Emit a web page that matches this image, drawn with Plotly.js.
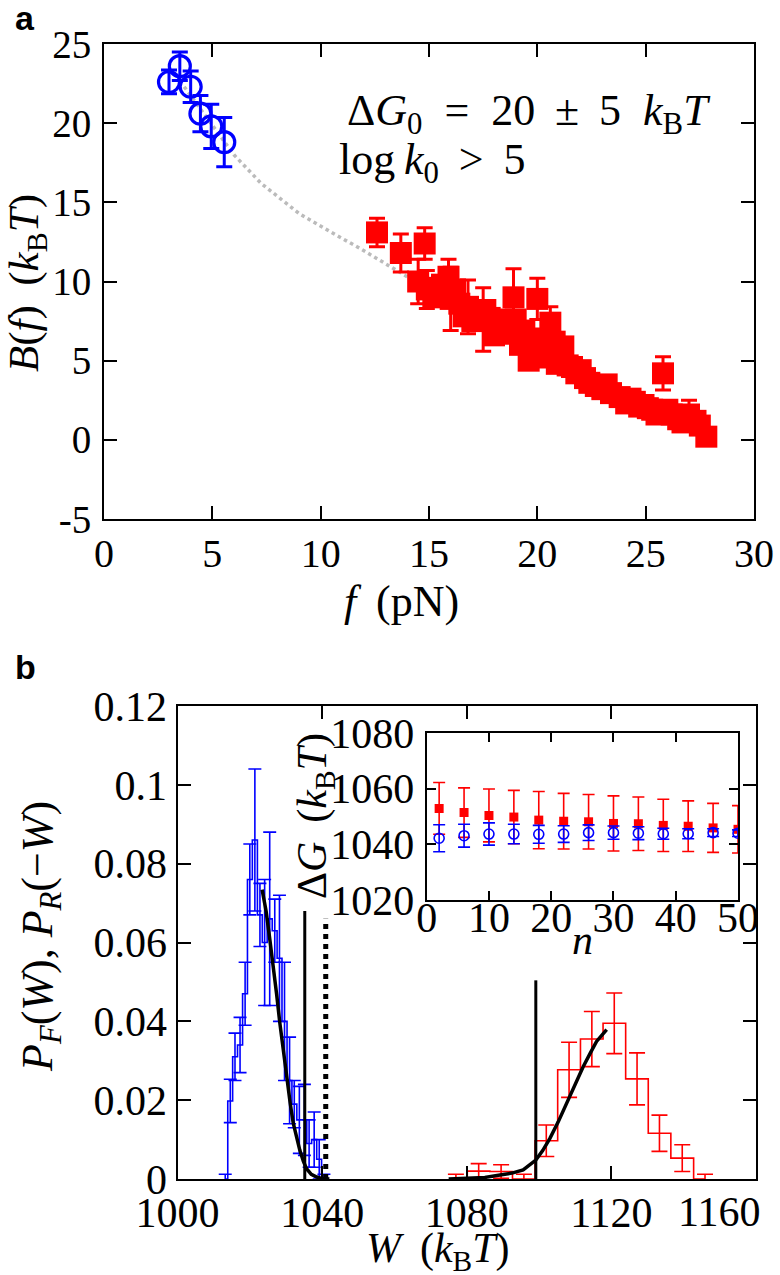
<!DOCTYPE html>
<html><head><meta charset="utf-8">
<script src="https://cdn.plot.ly/plotly-3.0.1.min.js"></script>
<style>body{margin:0;background:#fff;} #chart{width:780px;height:1275px;}</style>
</head><body><div id="chart"></div>
<script>
// ---------- Panel a data ----------
const fBlue = [3.0, 3.5, 4.0, 4.45, 4.95, 5.55];
const bBlue = [22.6, 23.6, 22.3, 20.6, 19.8, 18.8];
const bBlueErr = [0.75, 0.9, 1.0, 1.15, 1.4, 1.55];

const fRed = [12.6, 13.7, 14.8, 14.5, 14.9, 15.2, 15.3, 15.6, 15.9, 16.0, 16.2, 16.4, 16.6, 16.8, 17.0, 17.2, 17.5, 17.6, 17.8, 18.0, 18.2, 18.4, 18.5, 18.9, 18.9, 19.0, 19.2, 19.4, 19.6, 19.8, 20.0, 19.9, 20.3, 20.4, 20.6, 20.8, 20.9, 21.0, 21.2, 21.4, 21.6, 21.8, 22.0, 22.2, 22.4, 22.7, 23.0, 23.2, 23.4, 23.8, 24.1, 24.3, 24.5, 24.7, 24.9, 25.1, 25.3, 25.5, 25.7, 25.8, 26.0, 26.2, 26.5, 26.7, 27.0, 27.3, 27.5, 27.8];
const bRed = [13.1, 11.8, 12.4, 10.0, 9.5, 9.0, 9.6, 9.8, 10.3, 8.9, 9.5, 8.6, 7.8, 8.4, 7.5, 8.1, 7.6, 8.2, 7.7, 6.6, 7.0, 7.6, 6.7, 9.0, 6.8, 7.6, 6.0, 6.9, 5.0, 6.0, 8.9, 6.4, 5.7, 5.2, 7.4, 6.2, 4.8, 5.3, 5.9, 4.7, 4.6, 4.2, 4.4, 3.9, 3.6, 3.4, 3.2, 3.5, 2.95, 2.7, 2.3, 2.6, 2.4, 2.1, 2.2, 2.0, 1.9, 1.6, 1.7, 4.2, 1.9, 1.6, 1.3, 1.1, 1.6, 1.2, 0.9, 0.2];
const bRedErr = [0.9, 1.2, 1.0, 1.4, 1.2, 0.5, 0.5, 0.5, 1.1, 2.0, 0.5, 0.5, 0.5, 1.7, 0.5, 0.5, 2.0, 0.5, 0.5, 0.5, 0.5, 0.5, 0.5, 1.8, 0.5, 0.5, 0.5, 0.5, 0.5, 0.5, 1.3, 0.5, 0.5, 0.5, 1.0, 0.5, 0.5, 0.5, 0.5, 0.5, 0.5, 0.5, 0.5, 0.5, 0.5, 0.5, 0.5, 0.5, 0.5, 0.5, 0.5, 0.5, 0.5, 0.5, 0.5, 0.5, 0.5, 0.5, 0.5, 1.05, 0.5, 0.5, 0.5, 0.5, 0.9, 0.5, 0.5, 0.4];

const fFit = [3.7, 5.0, 6.0, 7.25, 9.0, 10.5, 11.8, 14.0, 16.0, 18.0, 20.0, 22.0, 24.0, 26.0, 27.8];
const bFit = [22.3, 19.9, 18.0, 16.2, 14.3, 13.1, 12.1, 10.3, 8.7, 7.2, 5.7, 4.3, 3.0, 1.9, 1.05];

const aXTicks = [0, 5, 10, 15, 20, 25, 30];
const aYTicks = [-5, 0, 5, 10, 15, 20, 25];
const aYTickText = ["-5", "0", "5", "10", "15", "20", "25"];

// ---------- Panel b data ----------
const wBlue = [1013.2, 1014.6, 1015.9, 1017.3, 1018.7, 1020.0, 1021.4, 1022.8, 1024.1, 1025.5, 1026.9, 1028.2, 1029.6, 1031.0, 1032.3, 1033.7, 1035.1, 1036.4, 1037.8, 1039.2, 1040.5];
const pBlue = [0, 0.0198, 0.031, 0.034, 0.047, 0.076, 0.086, 0.067, 0.060, 0.066, 0.063, 0.056, 0.040, 0.025, 0.019, 0.015, 0.015, 0.009, 0.010, 0.005, 0];
const pBlueErr = [0.0012, 0.0055, 0.006, 0.007, 0.008, 0.009, 0.018, 0.008, 0.016, 0.022, 0.008, 0.016, 0.015, 0.011, 0.006, 0.0085, 0.009, 0.006, 0.007, 0.005, 0.0012];

const wRed = [1077.0, 1083.3, 1089.5, 1095.8, 1102.0, 1108.3, 1114.6, 1120.8, 1127.1, 1133.3, 1139.6, 1145.9];
const pRed = [0, 0.002, 0.0019, 0, 0.0097, 0.0277, 0.0355, 0.0395, 0.0254, 0.0116, 0.0053, 0];
const pRedErr = [0.0012, 0.0019, 0.0017, 0.0012, 0.004, 0.007, 0.007, 0.0077, 0.0066, 0.0046, 0.0034, 0.0012];

const wFitF = [1023.4, 1024.5, 1025.5, 1026.5, 1027.4, 1028.3, 1029.3, 1030.3, 1031.2, 1032.0, 1033.0, 1033.8, 1034.8, 1035.7, 1037.0, 1038.5, 1040.0, 1042.0];
const pFitF = [0.0734, 0.068, 0.061, 0.054, 0.047, 0.0396, 0.032, 0.0252, 0.019, 0.0142, 0.010, 0.0074, 0.0045, 0.0026, 0.0012, 0.0005, 0.0001, 0];

const wFitR = [1075.0, 1085.0, 1089.2, 1092.5, 1095.6, 1099.1, 1101.0, 1103.0, 1105.3, 1107.6, 1110.0, 1112.2, 1114.2, 1115.9, 1118.7];
const pFitR = [0, 0.0004, 0.001, 0.0015, 0.0023, 0.0048, 0.0072, 0.0103, 0.0145, 0.0192, 0.024, 0.0285, 0.032, 0.0349, 0.0379];

const vlineW = [1035.2, 1041.0, 1099.1];
const vlineTop = [0.068, 0.066, 0.0504];
const vlineDash = ["solid", "dot", "solid"];

const bXTicks = [1000, 1040, 1080, 1120, 1160];
const bXTickText = ["1000", "1040", "1080", "1120", ""];
const bLastTickLabel = "1160";
const bYTicks = [0, 0.02, 0.04, 0.06, 0.08, 0.1, 0.12];
const bYTickText = ["0", "0.02", "0.04", "0.06", "0.08", "0.1", "0.12"];

// ---------- Inset data ----------
const nVals = [2, 6, 10, 14, 18, 22, 26, 30, 34, 38, 42, 46, 50];
const dgRed = [1052.9, 1051.4, 1050.4, 1049.8, 1048.7, 1048.3, 1048.1, 1047.5, 1047.4, 1046.8, 1046.5, 1045.9, 1045.4];
const dgRedErr = [9.3, 8.9, 9.5, 9.6, 10.3, 10.0, 9.8, 9.9, 9.6, 9.4, 9.1, 8.8, 8.5];
const dgBlue = [1042.2, 1043.1, 1043.7, 1043.7, 1043.6, 1043.7, 1044.2, 1044.2, 1044.0, 1043.8, 1043.8, 1044.2, 1044.0];
const dgBlueErr = [4.85, 4.1, 4.0, 3.5, 3.2, 3.0, 2.8, 2.4, 2.3, 2.0, 1.8, 1.4, 1.2];
const iXTicks = [0, 10, 20, 30, 40, 50];
const iYTicks = [1020, 1040, 1060, 1080];

// ---------- Traces ----------
const BLUE = '#0000ff', RED = '#ff0000';
const traces = [];
traces.push({x: fFit, y: bFit, xaxis: 'x', yaxis: 'y', mode: 'lines', line: {color: '#bbbbbb', width: 3.5, dash: 'dot'}, hoverinfo: 'skip'});
traces.push({x: fBlue, y: bBlue, xaxis: 'x', yaxis: 'y', mode: 'markers',
  marker: {symbol: 'circle-open', size: 21, color: BLUE, line: {width: 3.2, color: BLUE}},
  error_y: {type: 'data', array: bBlueErr, visible: true, color: BLUE, thickness: 3, width: 8}});
traces.push({x: fRed, y: bRed, xaxis: 'x', yaxis: 'y', mode: 'markers',
  marker: {symbol: 'square', size: 22, color: RED},
  error_y: {type: 'data', array: bRedErr, visible: true, color: RED, thickness: 3, width: 8}});

// panel b histograms
traces.push({x: wBlue, y: pBlue, xaxis: 'x2', yaxis: 'y2', mode: 'lines', line: {color: BLUE, width: 1.6, shape: 'hvh'}, hoverinfo: 'skip'});
traces.push({x: wBlue, y: pBlue, xaxis: 'x2', yaxis: 'y2', mode: 'markers', marker: {size: 1, color: BLUE, opacity: 0},
  error_y: {type: 'data', array: pBlueErr, visible: true, color: BLUE, thickness: 1.6, width: 6.5}});
traces.push({x: wRed, y: pRed, xaxis: 'x2', yaxis: 'y2', mode: 'lines', line: {color: RED, width: 1.6, shape: 'hvh'}, hoverinfo: 'skip'});
traces.push({x: wRed, y: pRed, xaxis: 'x2', yaxis: 'y2', mode: 'markers', marker: {size: 1, color: RED, opacity: 0},
  error_y: {type: 'data', array: pRedErr, visible: true, color: RED, thickness: 1.6, width: 8}});
traces.push({x: wFitF, y: pFitF, xaxis: 'x2', yaxis: 'y2', mode: 'lines', line: {color: '#000', width: 3.5}, hoverinfo: 'skip'});
traces.push({x: wFitR, y: pFitR, xaxis: 'x2', yaxis: 'y2', mode: 'lines', line: {color: '#000', width: 3.5}, hoverinfo: 'skip'});
for (let i = 0; i < vlineW.length; i++) {
  traces.push({x: [vlineW[i], vlineW[i]], y: [0, vlineTop[i]], xaxis: 'x2', yaxis: 'y2', mode: 'lines',
    line: {color: '#000', width: vlineDash[i] === 'dot' ? 5 : 3, dash: vlineDash[i]}, hoverinfo: 'skip'});
}
// inset
traces.push({x: nVals, y: dgRed, xaxis: 'x3', yaxis: 'y3', mode: 'markers', marker: {symbol: 'square', size: 9, color: RED},
  error_y: {type: 'data', array: dgRedErr, visible: true, color: RED, thickness: 1.6, width: 6}});
traces.push({x: nVals, y: dgBlue, xaxis: 'x3', yaxis: 'y3', mode: 'markers', marker: {symbol: 'circle-open', size: 10, color: BLUE, line: {width: 1.6, color: BLUE}},
  error_y: {type: 'data', array: dgBlueErr, visible: true, color: BLUE, thickness: 1.6, width: 6}});

// ---------- Layout ----------
const W = 780, H = 1275;
const px = v => v / W, py = v => 1 - v / H;
const FONT = 'Liberation Serif, DejaVu Serif, serif';
function axis(extra, size) {
  return Object.assign({
    showgrid: false, zeroline: false, showline: true, linecolor: '#000', linewidth: 2,
    mirror: 'allticks', ticks: 'inside', ticklen: 13, tickwidth: 2, tickcolor: '#000',
    tickfont: {family: FONT, size: size, color: '#000'}, fixedrange: true
  }, extra);
}
function note(text, x, y, size, extra) {
  return Object.assign({text: text, x: px(x), y: py(y), xref: 'paper', yref: 'paper', xanchor: 'center', yanchor: 'middle',
    showarrow: false, font: {family: FONT, size: size, color: '#000'}}, extra || {});
}
const layout = {
  width: W, height: H, margin: {l: 0, r: 0, t: 0, b: 0},
  paper_bgcolor: '#fff', plot_bgcolor: 'rgba(0,0,0,0)', showlegend: false,
  xaxis: axis({domain: [px(104), px(754)], range: [0, 30], anchor: 'y', tickvals: aXTicks, ticklabelstandoff: -2}, 40),
  yaxis: axis({domain: [py(519), py(44)], range: [-5, 25], anchor: 'x', tickvals: aYTicks, ticktext: aYTickText, ticklabelstandoff: 3}, 39),
  xaxis2: axis({domain: [px(177.5), px(756)], range: [1000, 1160], anchor: 'y2', tickvals: bXTicks, ticktext: bXTickText, ticklabelstandoff: -4}, 42),
  yaxis2: axis({domain: [py(1179), py(706)], range: [0, 0.12], anchor: 'x2', tickvals: bYTicks, ticktext: bYTickText, ticklabelstandoff: 0}, 42),
  xaxis3: axis({domain: [px(426.7), px(738)], range: [0, 50], anchor: 'y3', tickvals: iXTicks, ticklen: 9, ticklabelstandoff: -20}, 42),
  yaxis3: axis({domain: [py(900), py(733)], range: [1020, 1080], anchor: 'x3', tickvals: iYTicks, ticklen: 9, ticklabelstandoff: 2}, 42),
  annotations: [
    note('<b>a</b>', 13, 18, 34, {xanchor: 'left', font: {family: 'Liberation Sans, Arial, sans-serif', size: 34, color: '#000'}}),
    note('<b>b</b>', 13, 667, 34, {xanchor: 'left', font: {family: 'Liberation Sans, Arial, sans-serif', size: 34, color: '#000'}}),
    note('Δ<i>G</i><sub>0</sub>  =  20\u2009 ± \u20095  <i>k</i><sub>B</sub><i>T</i>', 345, 114, 44, {xanchor: 'left'}),
    note('log\u2009<i>k</i><sub>0</sub>\u2009 &gt; \u20095', 337, 162, 44, {xanchor: 'left'}),
    note('<i>B</i>(<i>f</i>)\u2009 (<i>k</i><sub>B</sub><i>T</i>)', 27, 283, 43, {textangle: -90}),
    note('<i>f</i> \u2009(pN)', 402, 601, 44),
    note('<i>P</i><sub><i>F</i></sub>(<i>W</i>), <i>P</i><sub><i>R</i></sub>(−<i>W</i>)', 40, 937, 44, {textangle: -90}),
    note('<i>W</i> \u2009(<i>k</i><sub>B</sub><i>T</i>)', 438, 1251, 42),
    note('Δ<i>G</i> \u2009(<i>k</i><sub>B</sub><i>T</i>)', 315, 816, 42, {textangle: -90}),
    note('<i>n</i>', 582, 940, 42),
    note(bLastTickLabel, 719, 1212, 42)
  ]
};
Plotly.newPlot('chart', traces, layout, {staticPlot: true, displayModeBar: false});
</script>
</body></html>
